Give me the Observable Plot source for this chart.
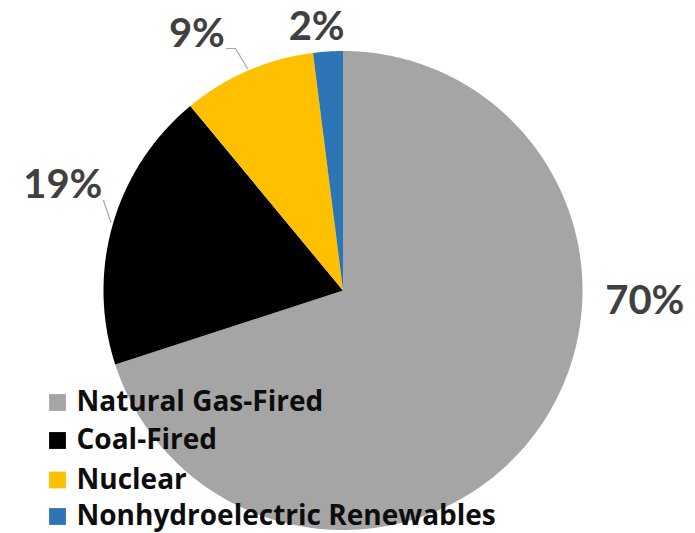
<!DOCTYPE html>
<html>
<head>
<meta charset="utf-8">
<script src="https://cdn.jsdelivr.net/npm/d3@7"></script>
<script src="https://cdn.jsdelivr.net/npm/@observablehq/plot@0.6"></script>
<style>
  html, body { margin: 0; padding: 0; background: #fff; }
  #chart { width: 695px; height: 533px; }
</style>
</head>
<body>
<div id="chart"></div>
<script>
// ---- data ----
const categories = ["Natural Gas-Fired", "Coal-Fired", "Nuclear", "Nonhydroelectric Renewables"];
const shares = [70, 19, 9, 2];
const labels = ["70%", "19%", "9%", "2%"];
const colors = ["#A5A5A5", "#000000", "#FFC000", "#2E75B6"];

// ---- layout (chart units: pie radius = 1, centre = 0,0) ----
const W = 695, H = 533, CX = 342.5, CY = 290, R = 239.5;
const labelAnchors = [[1.26, -0.045], [-1.17, 0.44], [-0.61, 1.07], [-0.11, 1.10]];
const px = (x, y) => [(x - CX) / R, (CY - y) / R];
const leaders = [
  null,
  [px(103, 200), px(110.5, 222)],
  [px(226, 48), px(235, 48), px(247, 68)],
  null
];

// slices -> polygons (angles clockwise from 12 o'clock)
const total = d3.sum(shares);
let acc = 0;
const polys = [];
const slices = categories.map((c, i) => {
  const a0 = acc / total * 2 * Math.PI;
  acc += shares[i];
  const a1 = acc / total * 2 * Math.PI;
  const n = Math.max(4, Math.ceil((a1 - a0) / (Math.PI / 360)));
  polys.push({cat: c, x: 0, y: 0});
  for (let j = 0; j <= n; j++) {
    const a = a0 + (a1 - a0) * j / n;
    polys.push({cat: c, x: Math.sin(a), y: Math.cos(a)});
  }
  return {cat: c, label: labels[i], lx: labelAnchors[i][0], ly: labelAnchors[i][1]};
});

const leaderPts = [];
leaders.forEach((l, i) => { if (l) l.forEach(p => leaderPts.push({cat: categories[i], x: p[0], y: p[1]})); });

// legend rows
const legendRows = categories.map((c, i) => ({cat: c, row: i}));
const legendY = r => (CY - [402, 440, 479.5, 516][r]) / R;
const legX = (57 - CX) / R, legTX = (76 - CX) / R;

const chart = Plot.plot({
  width: W, height: H,
  margin: 0,
  x: {type: "linear", domain: [-1, 1], range: [CX - R, CX + R], axis: null},
  y: {type: "linear", domain: [-1, 1], range: [CY + R, CY - R], axis: null},
  color: {domain: categories, range: colors},
  style: {fontFamily: "Lato, 'Open Sans', sans-serif", background: "#fff"},
  marks: [
    Plot.line(polys, {x: "x", y: "y", z: "cat", fill: "cat", stroke: null, curve: "linear-closed"}),
    Plot.line(leaderPts, {x: "x", y: "y", z: "cat", stroke: "#A6A6A6", strokeWidth: 1.2}),
    Plot.text(slices, {x: "lx", y: "ly", text: "label", fill: "#404040", fontSize: 40, fontWeight: "bold", textAnchor: "middle"}),
    Plot.dot(legendRows, {x: () => legX, y: d => legendY(d.row), fill: "cat", symbol: "square", r: 9.5, stroke: null}),
    Plot.text(legendRows, {x: () => legTX, y: d => legendY(d.row), text: "cat", fill: "#0d0d0d", fontSize: 28, fontWeight: "bold", fontFamily: "'Open Sans', sans-serif", textAnchor: "start"})
  ]
});
document.getElementById("chart").appendChild(chart);
</script>
</body>
</html>
